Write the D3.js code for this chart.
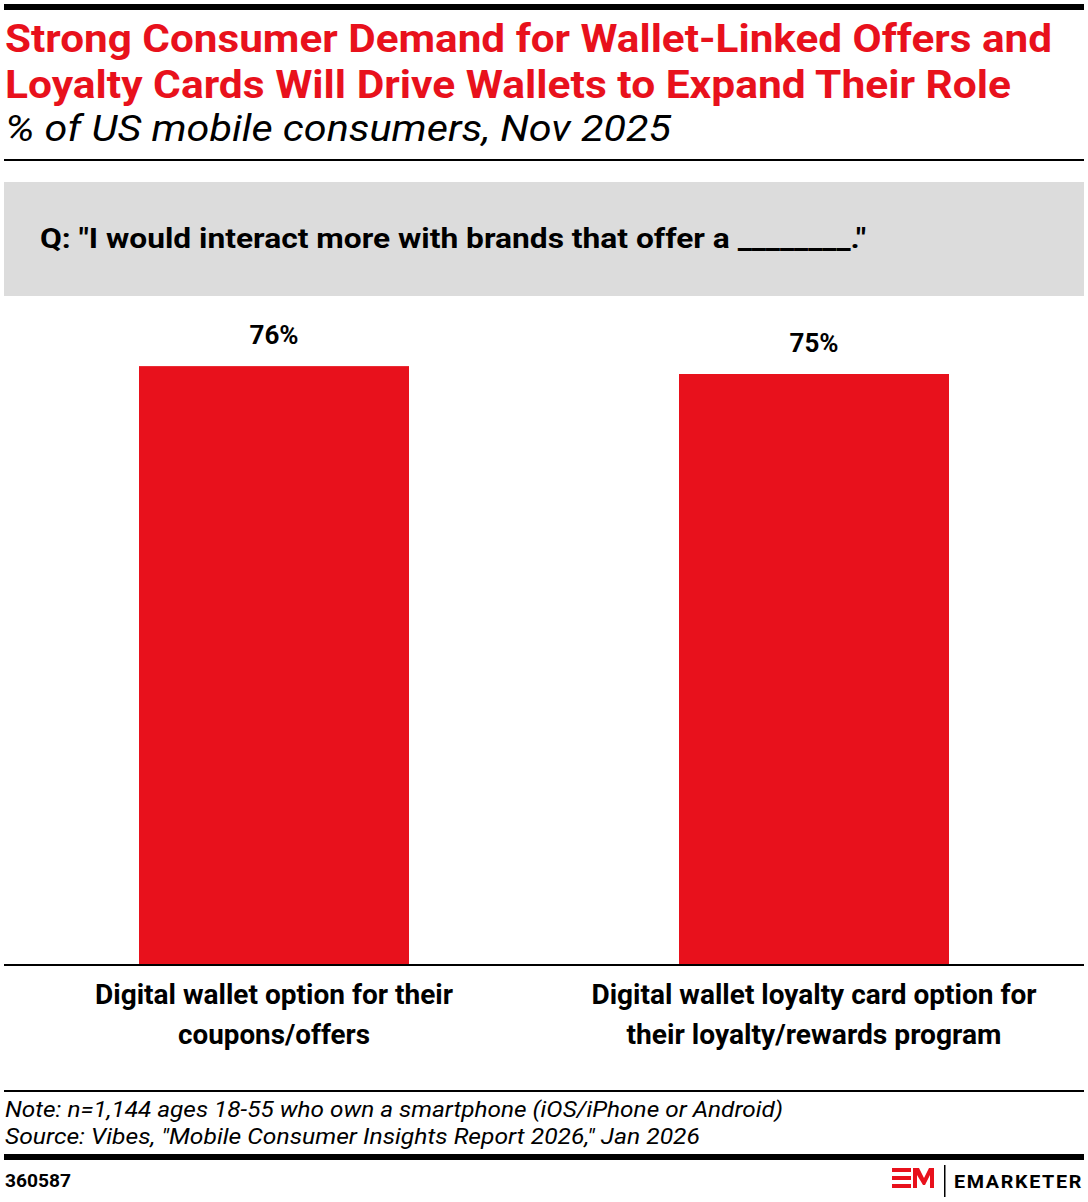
<!DOCTYPE html>
<html>
<head>
<meta charset="utf-8">
<script src="https://cdn.jsdelivr.net/npm/d3@7"></script>
<style>
  body { margin: 0; background: #fff; }
  svg text { font-family: Roboto, "Noto Sans", sans-serif; }
</style>
</head>
<body>
<div id="chart"></div>
<script>
// chart data
const categories = ["coupons", "loyalty"];
const categoryLabels = [
    ["Digital wallet option for their", "coupons/offers"],
    ["Digital wallet loyalty card option for", "their loyalty/rewards program"]
];
const labelWidths = [[358, 192], [445, 375]];
const values = [76, 75];

const width = 1088, height = 1202;
const red = "#e8111c";

let svg = d3.select("#chart").append("svg")
    .attr("width", width)
    .attr("height", height);

// squeeze/stretch a text to a given width (keeps the font height)
let fitText = function(sel, w) {
    let node = sel.node();
    let len = node.getComputedTextLength();
    if (Math.abs(len - w) > 2) {
        sel.attr("textLength", w).attr("lengthAdjust", "spacingAndGlyphs");
    }
    return sel;
}

// header
svg.append("rect").attr("x", 4).attr("y", 4).attr("width", 1080).attr("height", 6).attr("fill", "#000");

fitText(svg.append("text")
    .attr("x", 5).attr("y", 52)
    .attr("font-size", 38).attr("font-weight", 700).attr("fill", red)
    .text("Strong Consumer Demand for Wallet-Linked Offers and"), 1047);
fitText(svg.append("text")
    .attr("x", 5).attr("y", 98)
    .attr("font-size", 38).attr("font-weight", 700).attr("fill", red)
    .text("Loyalty Cards Will Drive Wallets to Expand Their Role"), 1006);
fitText(svg.append("text")
    .attr("x", 5).attr("y", 141)
    .attr("font-size", 36).attr("font-style", "italic").attr("fill", "#000")
    .text("% of US mobile consumers, Nov 2025"), 666);

svg.append("rect").attr("x", 4).attr("y", 159).attr("width", 1080).attr("height", 2).attr("fill", "#000");

// question box
svg.append("rect").attr("x", 4).attr("y", 182).attr("width", 1080).attr("height", 114).attr("fill", "#dcdcdc");
fitText(svg.append("text")
    .attr("x", 40).attr("y", 248)
    .attr("font-size", 28).attr("font-weight", 700).attr("fill", "#000")
    .text("Q: \"I would interact more with brands that offer a ________.\""), 826);

// scales
let x = d3.scaleBand()
    .domain(categories)
    .range([4, 1084])
    .paddingInner(0.5)
    .paddingOuter(0.25);

let y = d3.scaleLinear()
    .domain([0, 100])
    .range([965, 177]);

let g = svg.append("g");

g.selectAll(".bar")
    .data(values)
    .join("rect")
    .classed("bar", true)
    .attr("x", (d, i) => x(categories[i]))
    .attr("y", d => y(d))
    .attr("width", x.bandwidth())
    .attr("height", d => y(0) - y(d))
    .attr("fill", red);

g.selectAll(".value")
    .data(values)
    .join("text")
    .classed("value", true)
    .attr("x", (d, i) => x(categories[i]) + x.bandwidth() / 2)
    .attr("y", d => y(d) - 22)
    .attr("text-anchor", "middle")
    .attr("font-size", 26).attr("font-weight", 700).attr("fill", "#000")
    .text(d => d + "%");

// baseline
svg.append("rect").attr("x", 4).attr("y", 964).attr("width", 1080).attr("height", 2).attr("fill", "#000");

// category labels
categoryLabels.forEach((lines, i) => {
    lines.forEach((t, j) => {
        fitText(g.append("text")
            .classed("cat", true)
            .attr("x", x(categories[i]) + x.bandwidth() / 2)
            .attr("y", 1004 + j * 40)
            .attr("text-anchor", "middle")
            .attr("font-size", 27).attr("font-weight", 700).attr("fill", "#000")
            .text(t), labelWidths[i][j]);
    });
});

// footer
svg.append("rect").attr("x", 4).attr("y", 1090).attr("width", 1080).attr("height", 2).attr("fill", "#000");
fitText(svg.append("text")
    .attr("x", 5).attr("y", 1117)
    .attr("font-size", 22).attr("font-style", "italic").attr("fill", "#000")
    .text("Note: n=1,144 ages 18-55 who own a smartphone (iOS/iPhone or Android)"), 778);
fitText(svg.append("text")
    .attr("x", 5).attr("y", 1144)
    .attr("font-size", 22).attr("font-style", "italic").attr("fill", "#000")
    .text("Source: Vibes, \"Mobile Consumer Insights Report 2026,\" Jan 2026"), 695);

svg.append("rect").attr("x", 4).attr("y", 1154).attr("width", 1080).attr("height", 6).attr("fill", "#000");

fitText(svg.append("text")
    .attr("x", 5).attr("y", 1187)
    .attr("font-size", 18).attr("font-weight", 700).attr("fill", "#000")
    .text("360587"), 66);

// logo
let logo = svg.append("g").attr("transform", "translate(892,1168)");
// E: three bars
logo.append("rect").attr("x", 0).attr("y", 0).attr("width", 19).attr("height", 4).attr("fill", red);
logo.append("rect").attr("x", 0).attr("y", 8).attr("width", 19).attr("height", 4).attr("fill", red);
logo.append("rect").attr("x", 0).attr("y", 16).attr("width", 19).attr("height", 4).attr("fill", red);
// M
logo.append("path")
    .attr("d", "M21,20 L21,0 L27,0 L32,10 L37,0 L42,0 L42,20 L38,20 L38,7 L33,17 L31,17 L25,7 L25,20 Z")
    .attr("fill", red);
svg.append("rect").attr("x", 944).attr("y", 1165).attr("width", 1.5).attr("height", 32).attr("fill", "#000");
fitText(svg.append("text")
    .attr("x", 954).attr("y", 1188)
    .attr("font-size", 18).attr("font-weight", 700).attr("fill", "#000")
    .attr("letter-spacing", 1.5)
    .text("EMARKETER"), 129);
</script>
</body>
</html>
